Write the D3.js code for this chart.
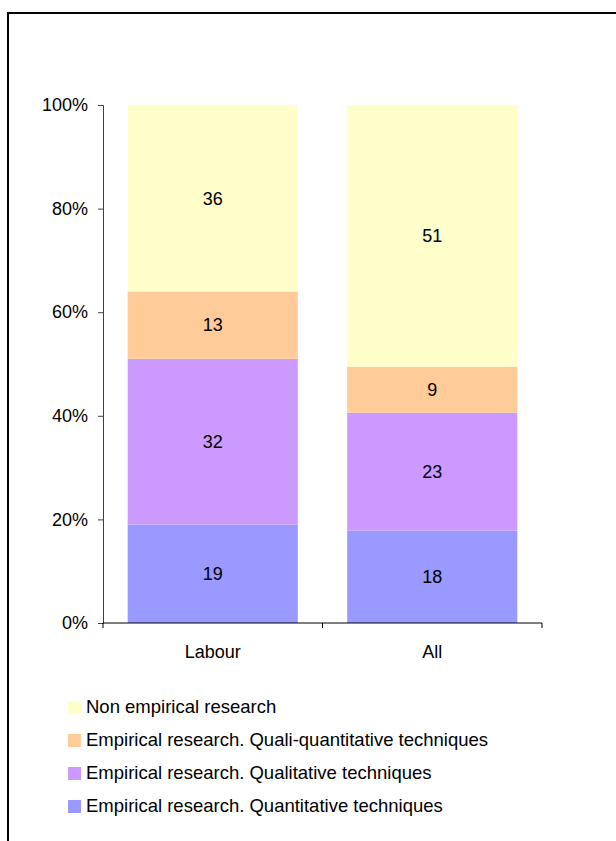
<!DOCTYPE html>
<html>
<head>
<meta charset="utf-8">
<title>Research type by field</title>
<script src="https://d3js.org/d3.v7.min.js"></script>
<style>
  body { margin: 0; background: #fff; font-family: "Liberation Sans", Arial, sans-serif; }
</style>
</head>
<body>
<svg id="chart"></svg>
<script>
// categories and series (bottom to top)
var groups = ["Labour", "All"];
var series = [
  "Empirical research. Quantitative techniques",
  "Empirical research. Qualitative techniques",
  "Empirical research. Quali-quantitative techniques",
  "Non empirical research"
];
var quantitative = [19, 18];
var qualitative = [32, 23];
var qualiQuant = [13, 9];
var nonEmpirical = [36, 51];
var colors = ["#9999ff", "#cc99ff", "#ffcc99", "#ffffcc"];
var yTicks = [0, 0.2, 0.4, 0.6, 0.8, 1];

var W = 616, H = 841;
var svg = d3.select("#chart").attr("width", W).attr("height", H);

// outer frame (clipped on right and bottom like the original)
svg.append("rect")
  .attr("x", 8).attr("y", 13)
  .attr("width", 700).attr("height", 900)
  .style("fill", "none")
  .style("stroke", "#000")
  .style("stroke-width", 2);

var plot = { left: 103, right: 542, top: 105, bottom: 623 };

var rows = groups.map(function(g, i) {
  var r = { group: g };
  r[series[0]] = quantitative[i];
  r[series[1]] = qualitative[i];
  r[series[2]] = qualiQuant[i];
  r[series[3]] = nonEmpirical[i];
  return r;
});

var stack = d3.stack().keys(series).offset(d3.stackOffsetExpand);
var layers = stack(rows);

var x = d3.scaleBand()
  .domain(groups)
  .range([plot.left, plot.right])
  .paddingInner(0.225)
  .paddingOuter(0.1125);

var y = d3.scaleLinear()
  .domain([0, 1])
  .range([plot.bottom, plot.top]);

var color = d3.scaleOrdinal().domain(series).range(colors);

// bars
var layer = svg.selectAll(".layer")
  .data(layers)
  .enter().append("g")
  .attr("class", "layer")
  .style("fill", function(d) { return color(d.key); });

layer.selectAll("rect")
  .data(function(d) { return d; })
  .enter().append("rect")
  .attr("x", function(d) { return x(d.data.group); })
  .attr("y", function(d) { return y(d[1]); })
  .attr("width", x.bandwidth())
  .attr("height", function(d) { return y(d[0]) - y(d[1]); });

// value labels
layer.selectAll("text")
  .data(function(l) { return l.map(function(d) { d.key = l.key; return d; }); })
  .enter().append("text")
  .attr("x", function(d) { return x(d.data.group) + x.bandwidth() / 2; })
  .attr("y", function(d) { return (y(d[0]) + y(d[1])) / 2; })
  .attr("dy", "0.35em")
  .attr("text-anchor", "middle")
  .style("fill", "#000")
  .style("font-size", "18px")
  .text(function(d) { return d.data[d.key]; });

// y axis
var yAxis = svg.append("g")
  .attr("transform", "translate(" + plot.left + ",0)")
  .call(d3.axisLeft(y).tickValues(yTicks).tickFormat(d3.format(".0%")).tickSize(5).tickPadding(10));

// x axis
var xEdges = d3.scaleLinear().domain([0, 2]).range([plot.left, plot.right]);
var xAxis = svg.append("g")
  .attr("transform", "translate(0," + plot.bottom + ")");
xAxis.append("line")
  .attr("x1", plot.left).attr("x2", plot.right)
  .attr("y1", 0).attr("y2", 0);
xAxis.selectAll(".xtick")
  .data([0, 1, 2])
  .enter().append("line")
  .attr("class", "xtick")
  .attr("x1", function(d) { return xEdges(d); })
  .attr("x2", function(d) { return xEdges(d); })
  .attr("y1", 0).attr("y2", 5);
xAxis.selectAll(".xlabel")
  .data(groups)
  .enter().append("text")
  .attr("class", "xlabel")
  .attr("x", function(d) { return x(d) + x.bandwidth() / 2; })
  .attr("y", 35)
  .attr("text-anchor", "middle")
  .style("font-size", "18px")
  .text(function(d) { return d; });

svg.selectAll(".domain, line").style("stroke", "#404040");
xAxis.selectAll("line").style("stroke", "#000");
yAxis.selectAll("text")
  .style("font-family", "Liberation Sans, Arial, sans-serif")
  .style("font-size", "18px")
  .style("fill", "#000");

// legend (top to bottom, reverse of stack)
var legendItems = series.slice().reverse();
var legend = svg.selectAll(".legend")
  .data(legendItems)
  .enter().append("g")
  .attr("class", "legend")
  .attr("transform", function(d, i) { return "translate(68," + (707 + i * 33) + ")"; });

legend.append("rect")
  .attr("x", 0).attr("y", -6)
  .attr("width", 13).attr("height", 13)
  .style("fill", color);

legend.append("text")
  .attr("x", 18)
  .attr("y", 0)
  .attr("dy", "0.35em")
  .style("font-size", "18.5px")
  .text(function(d) { return d; });
</script>
</body>
</html>
